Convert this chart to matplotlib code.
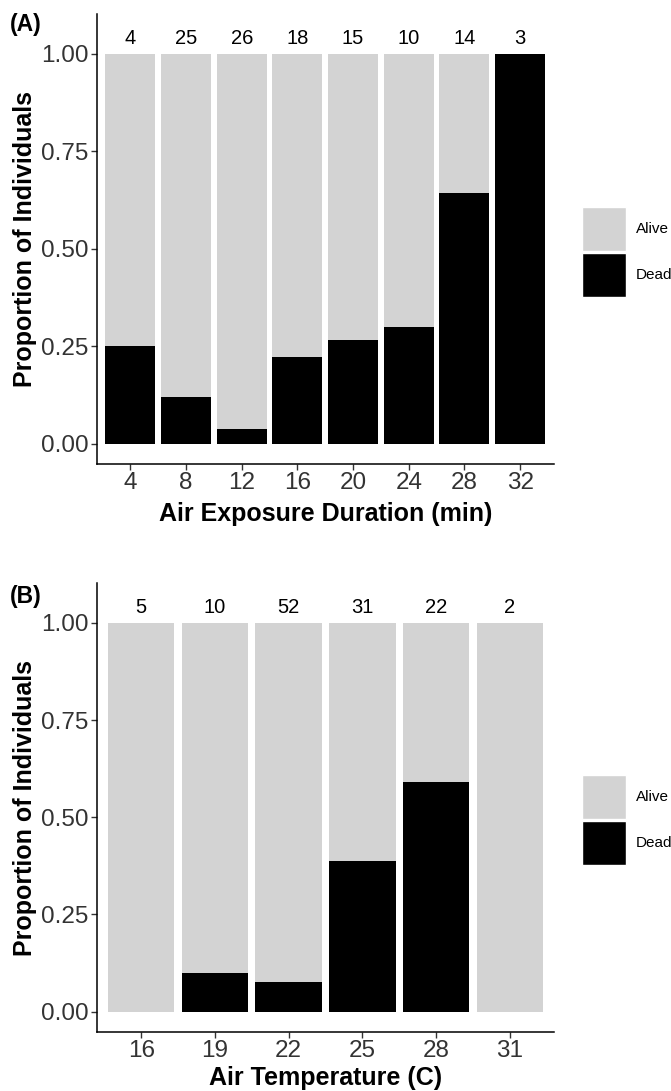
import matplotlib
matplotlib.use("Agg")
import matplotlib.pyplot as plt
from matplotlib.patches import Rectangle

plt.rcParams['font.family'] = ['Liberation Sans', 'DejaVu Sans']

# Panel A data
durations = ["4", "8", "12", "16", "20", "24", "28", "32"]
n_dur = [4, 25, 26, 18, 15, 10, 14, 3]
dead_dur = [0.25, 0.12, 0.0385, 0.222, 0.267, 0.30, 0.643, 1.0]

# Panel B data
temps = ["16", "19", "22", "25", "28", "31"]
n_temp = [5, 10, 52, 31, 22, 2]
dead_temp = [0.0, 0.10, 0.077, 0.387, 0.59, 0.0]

yticks = [0.0, 0.25, 0.5, 0.75, 1.0]
ytick_labels = ["0.00", "0.25", "0.50", "0.75", "1.00"]

W, H = 671, 1091
fig = plt.figure(figsize=(W / 100, H / 100), dpi=100)

ALIVE = "#d3d3d3"
DEAD = "#000000"


def px_axes(left, top, right, bottom):
    return fig.add_axes([left / W, 1 - bottom / H, (right - left) / W, (bottom - top) / H])


def panel(ax, cats, ns, dead, xlabel, xpad):
    x = list(range(len(cats)))
    alive = [1 - d for d in dead]
    ax.bar(x, dead, width=0.9, color=DEAD, edgecolor="none")
    ax.bar(x, alive, bottom=dead, width=0.9, color=ALIVE, edgecolor="none")
    for xi, n in zip(x, ns):
        ax.text(xi, 1.04, str(n), ha="center", va="center", fontsize=14.5)
    ax.set_xlim(-0.6, len(cats) - 1 + 0.6)
    ax.set_ylim(-0.0525, 1.1025)
    ax.set_xticks(x)
    ax.set_xticklabels(cats, fontsize=17.5, color="#333333")
    ax.set_yticks(yticks)
    ax.set_yticklabels(ytick_labels, fontsize=17.5, color="#333333")
    for s in ["top", "right"]:
        ax.spines[s].set_visible(False)
    for s in ["left", "bottom"]:
        ax.spines[s].set_linewidth(1.1)
    ax.tick_params(length=4, width=1.0, color="#333333", pad=2)
    ax.set_xlabel(xlabel, fontsize=18, fontweight="bold", labelpad=xpad)
    ax.set_ylabel("Proportion of Individuals", fontsize=18, fontweight="bold", labelpad=3)


def legend(top):
    lax = fig.add_axes([0, 0, 1, 1], frameon=False)
    lax.set_xlim(0, W)
    lax.set_ylim(H, 0)
    lax.axis("off")
    for i, (lab, col) in enumerate([("Alive", ALIVE), ("Dead", DEAD)]):
        y0 = top + i * 46
        lax.add_patch(Rectangle((582, y0), 44, 44, facecolor=col, edgecolor="white", lw=1))
        lax.text(636, y0 + 22, lab, fontsize=11, va="center", ha="left")


axA = px_axes(97, 14, 553.5, 464)
panel(axA, durations, n_dur, dead_dur, "Air Exposure Duration (min)", 5.5)
axB = px_axes(97, 583, 554, 1032)
panel(axB, temps, n_temp, dead_temp, "Air Temperature (C)", 2.5)

legend(207)
legend(775)

fig.text(10 / W, 1 - 25 / H, "(A)", fontsize=16.5, fontweight="bold", va="center")
fig.text(10 / W, 1 - 597 / H, "(B)", fontsize=16.5, fontweight="bold", va="center")

fig.savefig("out.png", dpi=100)
